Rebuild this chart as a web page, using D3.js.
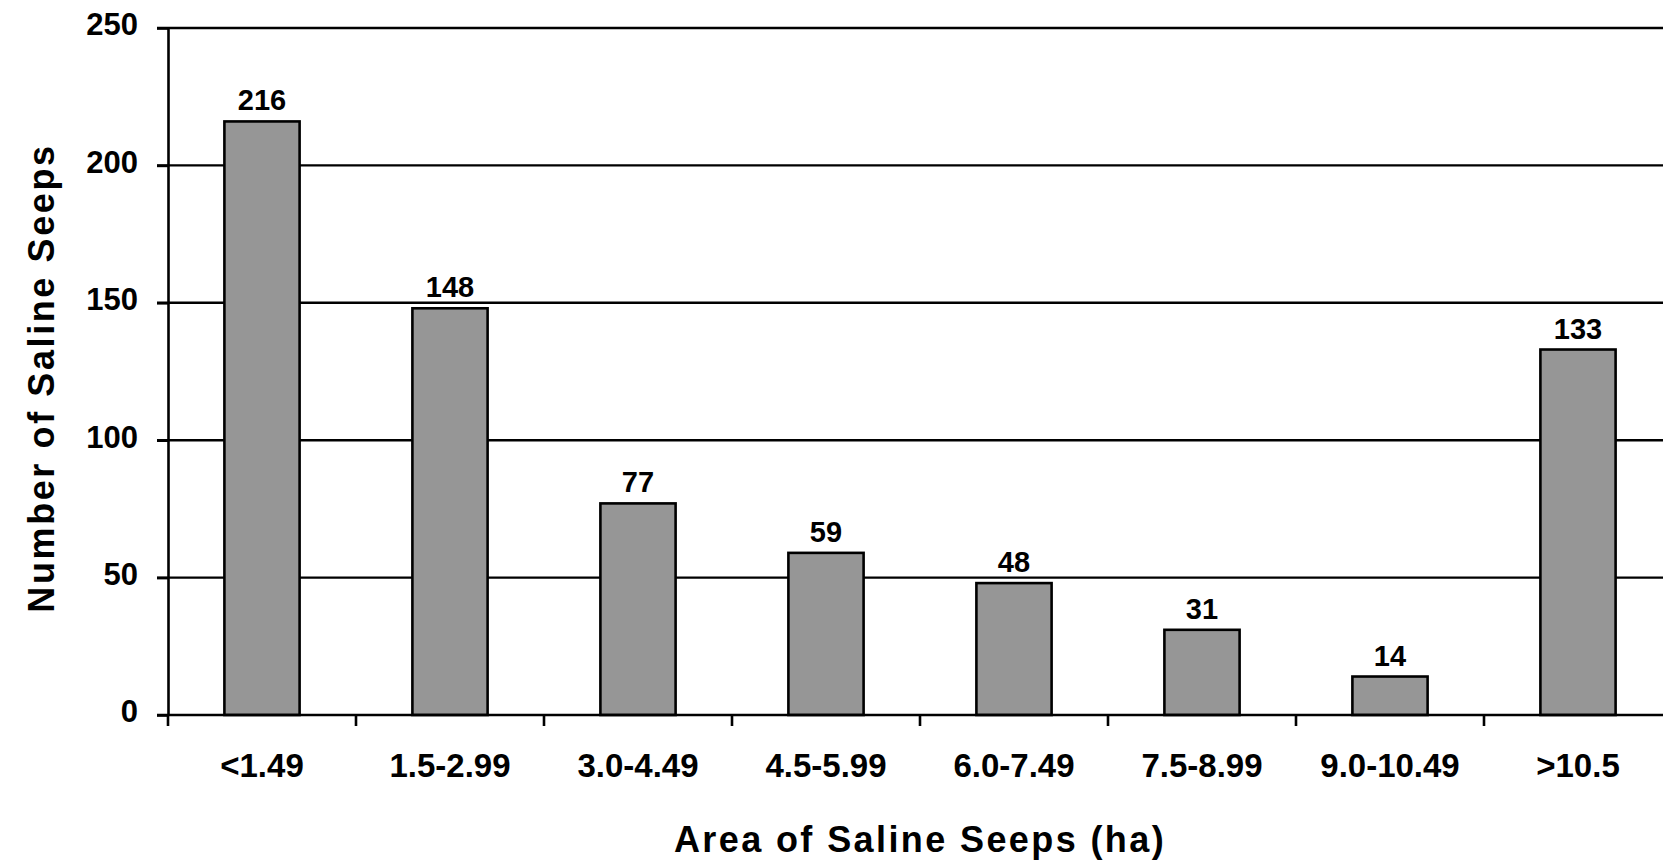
<!DOCTYPE html>
<html>
<head>
<meta charset="utf-8">
<script src="https://d3js.org/d3.v7.min.js"></script>
<style>
  body { margin: 0; background: #fff; }
  svg text { font-family: Arial, 'Liberation Sans', sans-serif; font-weight: bold; fill: #000; }
</style>
</head>
<body>
<svg id="seepChart"></svg>
<script>
// data
let areaClasses = ['<1.49', '1.5-2.99', '3.0-4.49', '4.5-5.99', '6.0-7.49', '7.5-8.99', '9.0-10.49', '>10.5'];
let seepCounts = [216, 148, 77, 59, 48, 31, 14, 133];
let yTickValues = [0, 50, 100, 150, 200, 250];

// svg size and margins (plot runs past the right edge, like the original)
let widthSVG = 1663;
let heightSVG = 862;
let margins = {
  top: 28,
  bottom: 147,
  left: 168,
  right: -9
}

let width = widthSVG - margins.left - margins.right;
let height = heightSVG - margins.top - margins.bottom;

let SVG = d3.select('svg#seepChart')
            .attr('width', widthSVG)
            .attr('height', heightSVG);

let SVGG = SVG.append('g')
              .attr('transform', `translate(${margins.left}, ${margins.top})`);

// scales
let x = d3.scaleBand()
          .domain(areaClasses)
          .range([0, width])
          .paddingInner(0.6)
          .paddingOuter(0.3);

let y = d3.scaleLinear()
          .domain([0, 250])
          .range([height, 0]);

let tickOut = 11;

// horizontal gridlines
SVGG.selectAll('line.grid')
    .data(yTickValues.filter(d => d > 0))
    .enter()
    .append('line')
    .classed('grid', true)
    .attr('x1', -tickOut)
    .attr('x2', width)
    .attr('y1', d => y(d))
    .attr('y2', d => y(d))
    .style('stroke', '#000')
    .style('stroke-width', '2.4px');

// bars
let data = areaClasses.map((c, i) => ({cls: c, count: seepCounts[i]}));

SVGG.selectAll('rect.bar')
    .data(data)
    .enter()
    .append('rect')
    .classed('bar', true)
    .attr('x', d => x(d.cls))
    .attr('y', d => y(d.count))
    .attr('width', x.bandwidth())
    .attr('height', d => height - y(d.count))
    .style('fill', '#969696')
    .style('stroke', '#000')
    .style('stroke-width', '2.6px');

// value labels over the bars
SVGG.selectAll('text.valLabel')
    .data(data)
    .enter()
    .append('text')
    .classed('valLabel', true)
    .text(d => d.count)
    .attr('x', d => x(d.cls) + x.bandwidth() / 2)
    .attr('y', d => y(d.count) - 11)
    .style('text-anchor', 'middle')
    .style('font-size', '29px');

// y axis
let yAxis = d3.axisLeft(y)
              .tickValues(yTickValues)
              .tickSize(tickOut)
              .tickSizeOuter(0)
              .tickPadding(19);

let yAxisG = SVGG.append('g').call(yAxis);
yAxisG.selectAll('line, path').style('stroke', '#000').style('stroke-width', '2.6px');
yAxisG.selectAll('text')
      .attr('dy', '0.22em')
      .style('font-size', '31px')
      .style('font-family', "Arial, 'Liberation Sans', sans-serif")
      .style('font-weight', 'bold');

// x axis: baseline, boundary ticks, then category labels
SVGG.append('line')
    .attr('x1', -tickOut)
    .attr('x2', width)
    .attr('y1', height)
    .attr('y2', height)
    .style('stroke', '#000')
    .style('stroke-width', '2.6px');

SVGG.selectAll('line.boundTick')
    .data(d3.range(areaClasses.length + 1))
    .enter()
    .append('line')
    .classed('boundTick', true)
    .attr('x1', i => x.range()[0] + i * x.step())
    .attr('x2', i => x.range()[0] + i * x.step())
    .attr('y1', height)
    .attr('y2', height + tickOut)
    .style('stroke', '#000')
    .style('stroke-width', '2.6px');

let xAxis = d3.axisBottom(x)
              .tickSize(0)
              .tickPadding(39);

let xAxisG = SVGG.append('g')
                 .attr('transform', `translate(0, ${height})`)
                 .call(xAxis);
xAxisG.select('path').remove();
xAxisG.selectAll('text')
      .style('font-size', '33px')
      .style('font-family', "Arial, 'Liberation Sans', sans-serif")
      .style('font-weight', 'bold');

// axis titles
SVG.append('text')
   .text('Area of Saline Seeps (ha)')
   .attr('x', 920)
   .attr('y', 852)
   .style('text-anchor', 'middle')
   .style('font-size', '36px')
   .style('letter-spacing', '2.4px');

SVG.append('text')
   .text('Number of Saline Seeps')
   .attr('transform', `translate(54, ${378}) rotate(-90)`)
   .style('text-anchor', 'middle')
   .style('font-size', '36px')
   .style('letter-spacing', '2.6px');
</script>
</body>
</html>
